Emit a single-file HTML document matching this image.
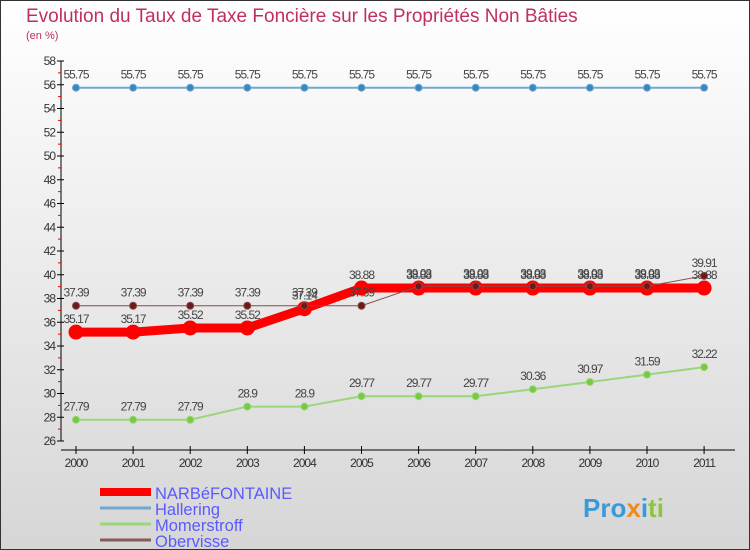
<!DOCTYPE html>
<html><head><meta charset="utf-8"><style>
body{margin:0}
svg{display:block;font-family:"Liberation Sans",sans-serif}
</style></head><body>
<svg width="750" height="550" viewBox="0 0 750 550">
<defs><linearGradient id="bg" x1="0" y1="0" x2="0" y2="1"><stop offset="0" stop-color="#ffffff"/><stop offset="1" stop-color="#d6d6d6"/></linearGradient></defs>
<rect x="0.5" y="0.5" width="749" height="549" fill="url(#bg)" stroke="#333"/>
<text x="26" y="22" font-size="19" fill="#c0305a">Evolution du Taux de Taxe Foncière sur les Propriétés Non Bâties</text>
<text x="26" y="39" font-size="11" fill="#c0305a">(en %)</text>
<g id="axes"></g>
<g id="series"></g>
<g id="legend"></g>
<text x="583" y="517" font-size="26" font-weight="bold" fill="#3a9ad9">Pro<tspan fill="#f08a1c">x</tspan><tspan fill="#3a9ad9">i</tspan><tspan fill="#8cc63f">ti</tspan></text>
</svg>
<script>
const years=[2000,2001,2002,2003,2004,2005,2006,2007,2008,2009,2010,2011];
const narb=[35.17,35.17,35.52,35.52,37.14,38.88,38.88,38.88,38.88,38.88,38.88,38.88];
const hallering=[55.75,55.75,55.75,55.75,55.75,55.75,55.75,55.75,55.75,55.75,55.75,55.75];
const momerstroff=[27.79,27.79,27.79,28.9,28.9,29.77,29.77,29.77,30.36,30.97,31.59,32.22];
const obervisse=[37.39,37.39,37.39,37.39,37.39,37.39,39.03,39.03,39.03,39.03,39.03,39.91];
const yTicks=[26,28,30,32,34,36,38,40,42,44,46,48,50,52,54,56,58];
const NS="http://www.w3.org/2000/svg";
const X=i=>76+i*57.1;
const Y=v=>441-(v-26)*11.875;
function mk(tag,attrs,parent,text){const e=document.createElementNS(NS,tag);for(const k in attrs)e.setAttribute(k,attrs[k]);if(text!==undefined)e.textContent=text;parent.appendChild(e);return e;}
const ax=document.getElementById('axes');
let a=mk('line',{x1:61,y1:Y(58),x2:61,y2:Y(26),stroke:'#000'},ax);

yTicks.forEach(v=>{
 mk('line',{x1:57,y1:Y(v),x2:64,y2:Y(v),stroke:'#000'},ax);
 if(v<58) mk('line',{x1:58,y1:Y(v+1),x2:61,y2:Y(v+1),stroke:'#e00'},ax);
 const t=mk('text',{x:55,y:Y(v)+4,'font-size':12,fill:'#333','text-anchor':'end','letter-spacing':'-1'},ax,String(v));
 
});
a=mk('line',{x1:61,y1:450,x2:735,y2:450,stroke:'#000'},ax);

years.forEach((yr,i)=>{
 mk('line',{x1:X(i),y1:446,x2:X(i),y2:454,stroke:'#000'},ax);
 const t=mk('text',{x:X(i),y:467,'font-size':12,fill:'#333','text-anchor':'middle','letter-spacing':'-1'},ax,String(yr));
 
});
const sg=document.getElementById('series');
function series(name,data,color,w,r,dot){
 const g=mk('g',{},sg);
 
 const p=mk('polyline',{points:data.map((v,i)=>X(i)+','+Y(v)).join(' '),fill:'none',stroke:color,'stroke-width':w,'stroke-linejoin':'round'},g);
 
 data.forEach((v,i)=>{
  const c=mk('circle',{cx:X(i),cy:Y(v),r:r,fill:dot,stroke:color,'stroke-width':1},g);
  
  const t=mk('text',{x:X(i),y:Y(v)-9,'font-size':12,fill:'#444','text-anchor':'middle','letter-spacing':'-1'},g,String(v));
  
 });
}
series('hallering',hallering,'#6fa8d0',2,3.5,'#3a86c0');
series('momerstroff',momerstroff,'#9ad67a',2,3.5,'#77c940');
series('narbefontaine',narb,'#f00',9,7,'#f00');
series('obervisse',obervisse,'#8a4a4a',1,3.5,'#6a1a1a');
const lg=document.getElementById('legend');
const leg=[['NARBéFONTAINE','#f00',8],['Hallering','#6fa8d0',3],['Momerstroff','#9ad67a',3],['Obervisse','#8a5a5a',3]];
leg.forEach((l,i)=>{
 const y=492+i*16;
 const g=mk('g',{},lg);
 
 mk('line',{x1:100,y1:y,x2:151,y2:y,stroke:l[1],'stroke-width':l[2]},g);
 mk('text',{x:155,y:y+7,'font-size':16.5,fill:'#5a5aff'},g,l[0]);
});
</script>
</body></html>
